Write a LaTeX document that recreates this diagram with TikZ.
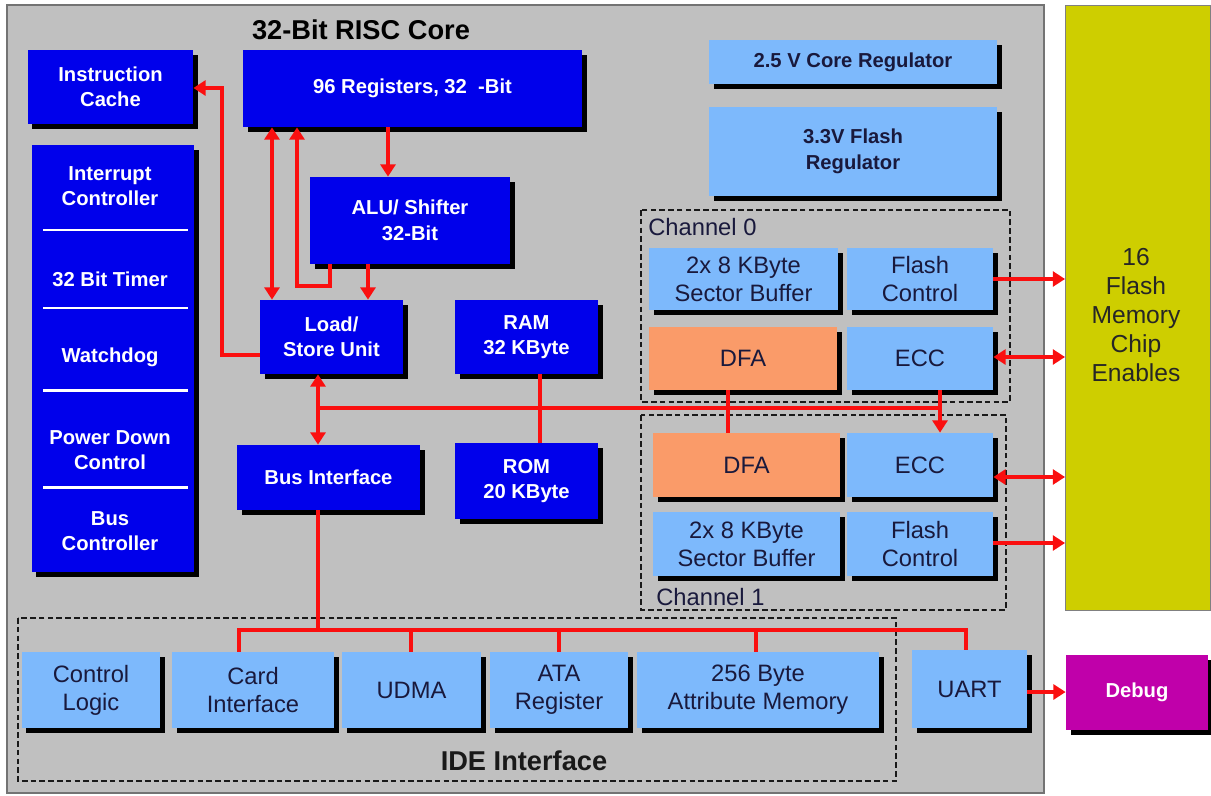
\documentclass[tikz,border=0pt]{standalone}
\usepackage{fontspec}
\setmainfont{Liberation Sans}
\usetikzlibrary{arrows.meta,shadows}
\definecolor{bgray}{RGB}{192,192,192}
\definecolor{dblue}{RGB}{0,0,235}
\definecolor{lblue}{RGB}{125,185,252}
\definecolor{orng}{RGB}{250,155,105}
\definecolor{yel}{RGB}{206,206,0}
\definecolor{mag}{RGB}{192,0,170}
\definecolor{navy}{RGB}{25,25,60}
\definecolor{lred}{RGB}{250,15,15}
\newcommand\blk[7]{\node[#1, minimum width={(#5-#3)*0.02cm}, minimum height={(#6-#4)*0.02cm}] (#2) at ({(#3+#5)/2},{(#4+#6)/2}) {#7};}
\tikzset{
  shd/.style={general shadow={fill=black, shadow xshift=0.09cm, shadow yshift=-0.09cm}},
  dkbox/.style={shd, fill=dblue, text=white, font=\fontsize{11.5}{14.5}\selectfont\bfseries, align=center, inner sep=0pt},
  ltbox/.style={shd, fill=lblue, text=navy, font=\fontsize{13.5}{16}\selectfont, align=center, inner sep=0pt},
  regbox/.style={ltbox, font=\fontsize{11.5}{14.5}\selectfont\bfseries},
  orbox/.style={ltbox, fill=orng},
  rl/.style={draw=lred, line width=2.4pt},
  ar/.style={rl, -{Triangle[length=7pt,width=8.5pt]}},
  dar/.style={rl, {Triangle[length=7pt,width=8.5pt]}-{Triangle[length=7pt,width=8.5pt]}},
  dbox/.style={draw=black!90, line width=1.6pt, dash pattern=on 3.2pt off 1.8pt},
  sep/.style={draw=white, line width=1.7pt},
  lbl/.style={text=navy, font=\fontsize{13.5}{16}\selectfont, inner sep=0pt},
  wl/.style={text=white, font=\fontsize{11.5}{14.5}\selectfont\bfseries, align=center, inner sep=0pt},
}
\begin{document}
\begin{tikzpicture}[x=0.02cm,y=-0.02cm]
\useasboundingbox (0,0) rectangle (1211,795);
\fill[white] (0,0) rectangle (1211,795);
\draw[fill=bgray, draw=black!55, line width=0.6pt] (7,5) rectangle (1044,793);

\node[font=\fontsize{15.5}{18}\selectfont\bfseries, inner sep=0pt] (title) at (361,30) {32-Bit RISC Core};

% dark blue core blocks
\blk{dkbox}{ic}{28}{50}{193}{124}{Instruction\\Cache}
\blk{dkbox}{reg}{243}{50}{582}{127}{96 Registers, 32 \ -Bit}
\blk{dkbox}{alu}{310}{177}{510}{264}{ALU/ Shifter\\32-Bit}
\blk{dkbox}{per}{32}{145}{194}{572}{}
\blk{dkbox}{lsu}{260}{300}{403}{374}{Load/\\Store Unit}
\blk{dkbox}{ram}{455}{300}{598}{374}{RAM\\32 KByte}
\blk{dkbox}{busif}{237}{445}{420}{510}{Bus Interface}
\blk{dkbox}{rom}{455}{443}{598}{519}{ROM\\20 KByte}

\draw[sep] (43,230) -- (188,230);
\draw[sep] (43,308) -- (188,308);
\draw[sep] (43,390) -- (188,390);
\draw[sep] (43,487) -- (188,487);
\node[wl] (irq) at (110,186) {Interrupt\\Controller};
\node[wl] (tmr) at (110,279) {32 Bit Timer};
\node[wl] (wdg) at (110,357) {Watchdog};
\node[wl] (pdc) at (110,450) {Power Down\\Control};
\node[wl] (bsc) at (110,531) {Bus\\Controller};

% regulators
\blk{regbox}{r25}{709}{40}{997}{84}{2.5 V Core Regulator}
\blk{regbox}{r33}{709}{107}{997}{196}{3.3V Flash\\Regulator}

% channels
\draw[dbox] (641,210) rectangle (1010,402);
\node[lbl, anchor=west] (c0l) at (648,227) {Channel 0};
\blk{ltbox}{sb0}{649}{248}{838}{310}{2x 8 KByte\\Sector Buffer}
\blk{ltbox}{fc0}{847}{248}{993}{310}{Flash\\Control}
\blk{orbox}{dfa0}{649}{327}{837}{390}{DFA}
\blk{ltbox}{ecc0}{847}{327}{993}{390}{ECC}

\draw[dbox] (641,415) rectangle (1006,610);
\node[lbl, anchor=west] (c1l) at (656,597) {Channel 1};
\blk{orbox}{dfa1}{653}{433}{840}{497}{DFA}
\blk{ltbox}{ecc1}{847}{433}{993}{497}{ECC}
\blk{ltbox}{sb1}{653}{512}{840}{576}{2x 8 KByte\\Sector Buffer}
\blk{ltbox}{fc1}{847}{512}{993}{576}{Flash\\Control}

% flash memory block
\node[fill=yel, draw=black!50, line width=0.5pt, minimum width={145*0.02cm}, minimum height={605*0.02cm}, inner sep=0pt] (yel) at (1138,307.5) {};
\node[text=black!85, font=\fontsize{14}{16.4}\selectfont, align=center, inner sep=0pt] (yt) at (1136,315) {16\\Flash\\Memory\\Chip\\Enables};

% IDE interface
\draw[dbox] (18,618) rectangle (896,781);
\node[font=\fontsize{15.5}{18}\selectfont\bfseries, text=black!90, inner sep=0pt] (idel) at (524,761) {IDE Interface};
\blk{ltbox}{cl}{22}{652}{160}{728}{Control\\Logic}
\blk{ltbox}{card}{172}{652}{334}{728}{Card\\Interface}
\blk{ltbox}{udma}{342}{652}{481}{728}{UDMA}
\blk{ltbox}{ata}{490}{652}{628}{728}{ATA\\Register}
\blk{ltbox}{attr}{637}{652}{879}{728}{256 Byte\\Attribute Memory}
\blk{ltbox}{uart}{912}{650}{1027}{728}{UART}

% debug
\blk{shd, fill=mag, text=white, font=\fontsize{11.5}{14}\selectfont\bfseries, inner sep=0pt}{dbg}{1066}{655}{1208}{730}{Debug}

% connectors
\draw[ar] (lsu.west |- 0,355) -| (222,88) -- (ic.east |- 0,88);
\draw[dar] (reg.south -| 272,0) -- (lsu.north -| 272,0);
\draw[ar] (alu.south -| 330,0) |- (297,286) -- (reg.south -| 297,0);
\draw[ar] (reg.south -| 388,0) -- (alu.north -| 388,0);
\draw[ar] (alu.south -| 368,0) -- (lsu.north -| 368,0);
\draw[dar] (lsu.south -| 318,0) -- (busif.north -| 318,0);
\coordinate (b1) at (318,408);
\coordinate (b2) at (940,408);
\draw[rl] (b1) -- (b2);
\draw[rl] (ram.south -| 540,0) -- (rom.north -| 540,0);
\draw[rl] (dfa0.south -| 728,0) -- (dfa1.north -| 728,0);
\draw[ar] (ecc0.south -| 940,0) -- (ecc1.north -| 940,0);
\draw[ar] (fc0.east |- 0,279) -- (yel.west |- 0,279);
\draw[dar] (ecc0.east |- 0,357) -- (yel.west |- 0,357);
\draw[dar] (ecc1.east |- 0,477) -- (yel.west |- 0,477);
\draw[ar] (fc1.east |- 0,543) -- (yel.west |- 0,543);
\draw[ar] (uart.east |- 0,692) -- (dbg.west |- 0,692);

\coordinate (i0) at (318,630);
\draw[rl] (busif.south -| 318,0) -- (i0);
\draw[rl] (card.north -| 239,0) -- (239,630) -- (966,630) -- (uart.north -| 966,0);
\draw[rl] (411,630) -- (udma.north -| 411,0);
\draw[rl] (559,630) -- (ata.north -| 559,0);
\draw[rl] (756,630) -- (attr.north -| 756,0);
\end{tikzpicture}
\end{document}
